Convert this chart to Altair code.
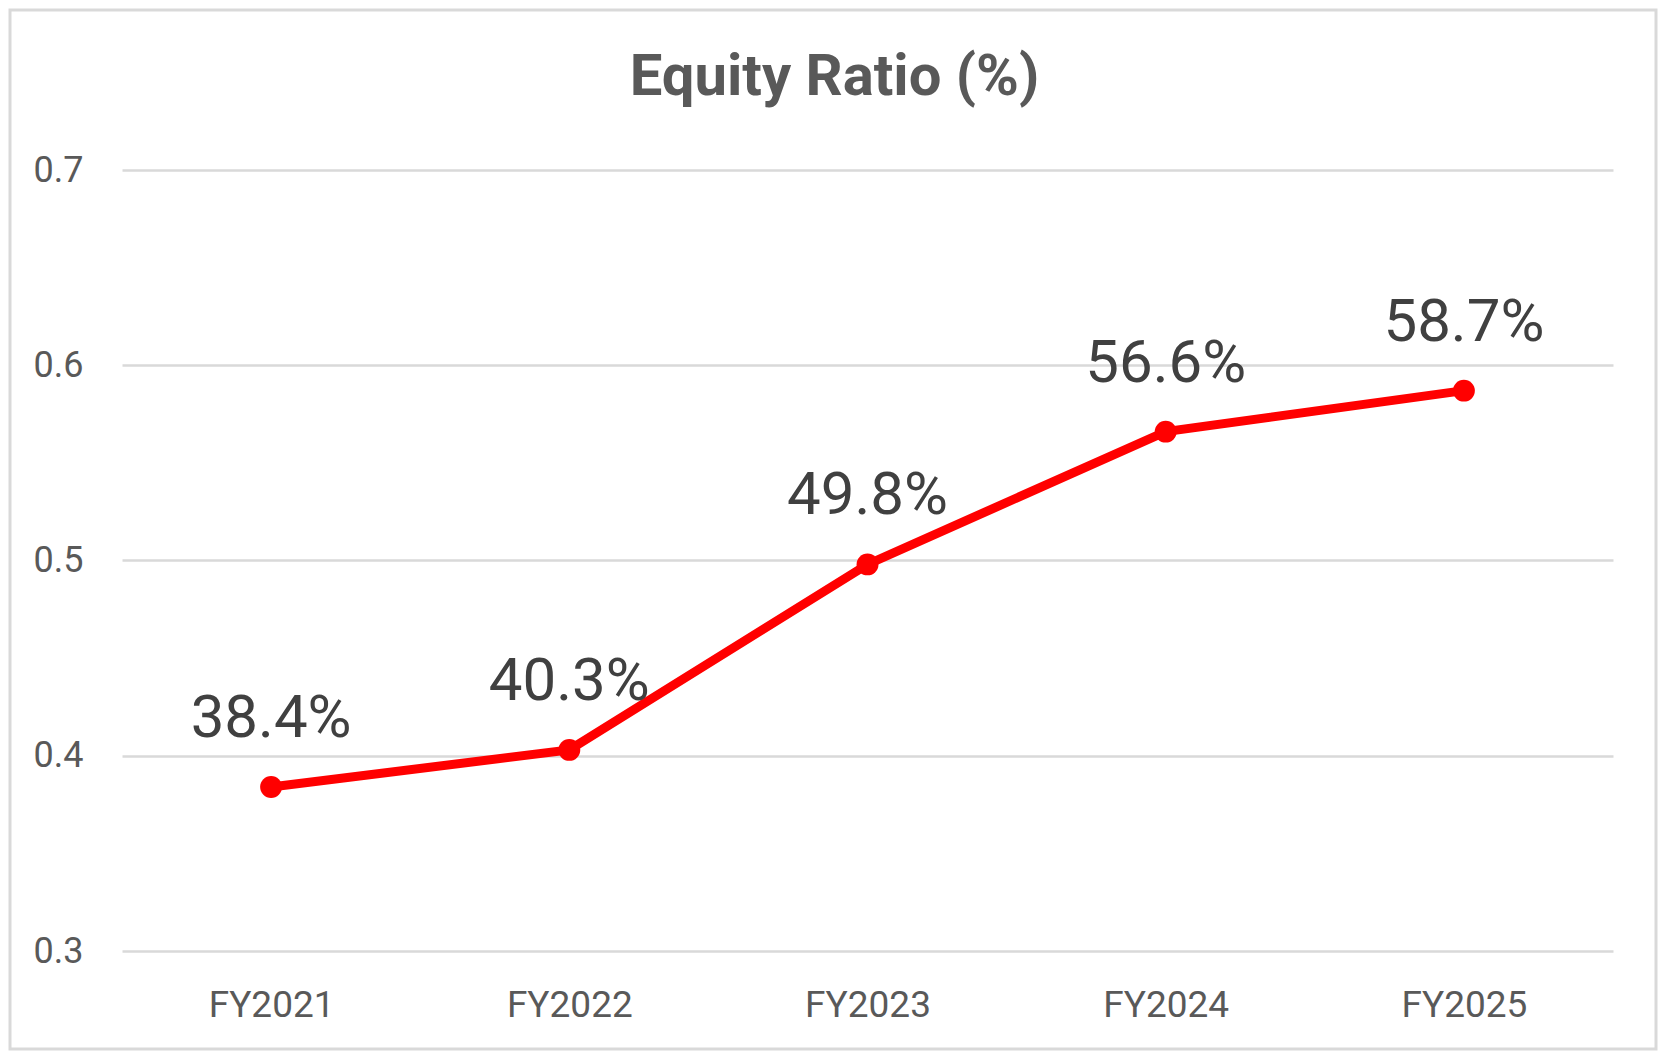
import altair as alt
import pandas as pd

years = ["FY2021", "FY2022", "FY2023", "FY2024", "FY2025"]
ratios = [0.384, 0.403, 0.498, 0.566, 0.587]
labels = ["38.4%", "40.3%", "49.8%", "56.6%", "58.7%"]
y_ticks = [0.3, 0.4, 0.5, 0.6, 0.7]

df = pd.DataFrame({"year": years, "ratio": ratios, "label": labels})

W, H = 1491, 781

x_enc = alt.X("year:N", sort=years, title=None,
              scale=alt.Scale(padding=0.5),
              axis=alt.Axis(labelAngle=0, labelFont="Roboto", labelFontSize=37,
                            labelColor="#595959", labelPadding=36, ticks=False,
                            domain=False, grid=False))
y_enc = alt.Y("ratio:Q", title=None,
              scale=alt.Scale(domain=[0.3, 0.7], nice=False, zero=False),
              axis=alt.Axis(values=y_ticks, format=".1f", labelFont="Roboto",
                            labelFontSize=36, labelColor="#595959", labelPadding=39,
                            ticks=False, domain=False, grid=True, gridColor="#d9d9d9",
                            gridWidth=2.5))

base = alt.Chart(df)

line = base.mark_line(color="#ff0000", strokeWidth=9).encode(x=x_enc, y=y_enc)
pts = base.mark_point(filled=True, color="#ff0000", size=480, opacity=1).encode(
    x="year:N", y="ratio:Q")
txt = base.mark_text(font="Roboto", fontSize=60, color="#404040", dy=-50,
                     baseline="alphabetic", align="center").encode(
    x="year:N", y="ratio:Q", text="label:N")

frame = alt.Chart(pd.DataFrame({"f": [0]})).mark_rect(
    fill=None, stroke="#d9d9d9", strokeWidth=3, clip=False).encode(
    x=alt.value(-112), x2=alt.value(W + 43), y=alt.value(-160), y2=alt.value(H + 98))

chart = alt.layer(frame, line, pts, txt).properties(
    width=W, height=H,
    title=alt.TitleParams("Equity Ratio (%)", font="Roboto",
                          fontSize=58, fontWeight="bold", color="#595959",
                          anchor="middle", dx=-33, offset=0, dy=98),
    padding={"left": 114, "top": 162, "right": 45, "bottom": 100},
    autosize=alt.AutoSizeParams(type="none"),
    background="white",
).configure_view(stroke=None)

chart.save("out.html", embed_options={"renderer": "svg", "actions": False})
